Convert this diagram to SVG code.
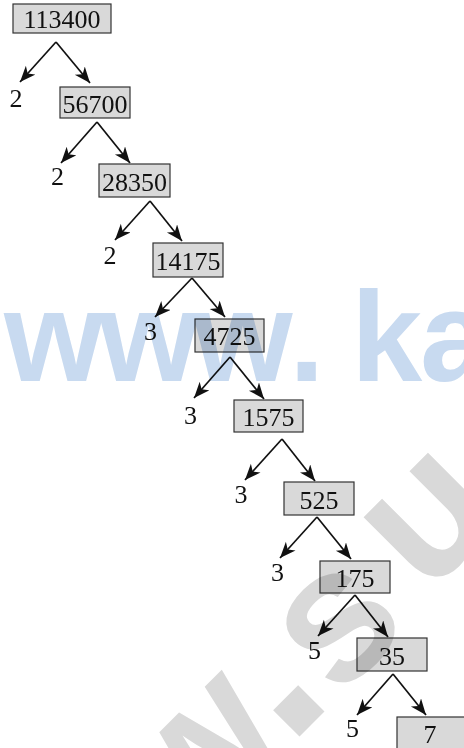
<svg xmlns="http://www.w3.org/2000/svg" width="464" height="748" viewBox="0 0 464 748">
<style>
.box{fill:#d9d9d9;stroke:#333333;stroke-width:1.2}
.num{font-family:"Liberation Serif","Times New Roman",serif;font-size:26px;fill:#111111;text-anchor:middle}
.edge{stroke:#111111;stroke-width:1.7;fill:none;marker-end:url(#ah)}
.wm{font-family:"Liberation Sans",Arial,sans-serif;font-weight:bold;mix-blend-mode:multiply}
</style>
<defs>
<marker id="ah" markerUnits="userSpaceOnUse" markerWidth="18" markerHeight="15" refX="16" refY="6.5" orient="auto">
<path d="M0,0 L16,6.5 L0,13 L4.5,6.5 z" fill="#111111"/>
</marker>
</defs>
<rect width="464" height="748" fill="#ffffff"/>
<g id="connectors">
<line class="edge" x1="56" y1="42" x2="20" y2="82"/><line class="edge" x1="56" y1="42" x2="90" y2="83"/>
<line class="edge" x1="97" y1="122" x2="61" y2="163"/><line class="edge" x1="97" y1="122" x2="130" y2="163"/>
<line class="edge" x1="150" y1="201" x2="115" y2="240"/><line class="edge" x1="150" y1="201" x2="182" y2="241"/>
<line class="edge" x1="192" y1="278" x2="155" y2="317"/><line class="edge" x1="192" y1="278" x2="225" y2="317"/>
<line class="edge" x1="230" y1="357" x2="194" y2="398"/><line class="edge" x1="230" y1="357" x2="264" y2="399"/>
<line class="edge" x1="282" y1="439" x2="245" y2="480"/><line class="edge" x1="282" y1="439" x2="315" y2="481"/>
<line class="edge" x1="317" y1="517" x2="280" y2="558"/><line class="edge" x1="317" y1="517" x2="351" y2="559"/>
<line class="edge" x1="355" y1="595" x2="318" y2="636"/><line class="edge" x1="355" y1="595" x2="388" y2="637"/>
<line class="edge" x1="393" y1="674" x2="357" y2="715"/><line class="edge" x1="393" y1="674" x2="426" y2="715"/>
</g>
<g id="n113400"><rect class="box" x="13" y="4" width="98" height="29"/><text class="num" x="62" y="28">113400</text></g>
<g id="n56700"><rect class="box" x="60" y="87" width="70" height="31"/><text class="num" x="95" y="113">56700</text></g>
<g id="n28350"><rect class="box" x="99" y="164" width="71" height="33"/><text class="num" x="134.5" y="191">28350</text></g>
<g id="n14175"><rect class="box" x="153" y="243" width="70" height="34"/><text class="num" x="188" y="270">14175</text></g>
<g id="n4725"><rect class="box" x="195" y="319" width="69" height="33"/><text class="num" x="229.5" y="345">4725</text></g>
<g id="n1575"><rect class="box" x="234" y="400" width="69" height="32"/><text class="num" x="268.5" y="426">1575</text></g>
<g id="n525"><rect class="box" x="284" y="482" width="70" height="33"/><text class="num" x="319" y="509">525</text></g>
<g id="n175"><rect class="box" x="320" y="561" width="70" height="32"/><text class="num" x="355" y="587">175</text></g>
<g id="n35"><rect class="box" x="357" y="638" width="70" height="33"/><text class="num" x="392" y="665">35</text></g>
<g id="n7"><rect class="box" x="397" y="717" width="70" height="40"/><text class="num" x="430" y="743">7</text></g>
<g id="f1"><text class="num" x="16" y="107">2</text></g>
<g id="f2"><text class="num" x="57.5" y="185">2</text></g>
<g id="f3"><text class="num" x="110" y="264">2</text></g>
<g id="f4"><text class="num" x="150.5" y="340">3</text></g>
<g id="f5"><text class="num" x="190.5" y="424">3</text></g>
<g id="f6"><text class="num" x="241" y="503">3</text></g>
<g id="f7"><text class="num" x="277.5" y="581">3</text></g>
<g id="f8"><text class="num" x="314.5" y="659">5</text></g>
<g id="f9"><text class="num" x="352.5" y="737">5</text></g>
<g id="watermark">
<text class="wm" y="381" font-size="128" fill="#c8daf0"><tspan x="4">w</tspan><tspan x="99">w</tspan><tspan x="193">w</tspan><tspan x="289">.</tspan><tspan x="351">k</tspan><tspan x="420">a</tspan></text>
<g fill="#d9d9d9">
<text class="wm" font-size="250" text-anchor="middle" transform="translate(300,712) rotate(-45)" y="17">.</text>
<text class="wm" font-size="190" text-anchor="middle" transform="translate(340,627) rotate(-45)" y="50">s</text>
<text class="wm" font-size="190" text-anchor="middle" transform="translate(432,520) rotate(-45)" y="50">u</text>
<text class="wm" font-size="190" text-anchor="middle" transform="translate(205,758) rotate(-45)" y="50">w</text>
</g>
</g>
</svg>
